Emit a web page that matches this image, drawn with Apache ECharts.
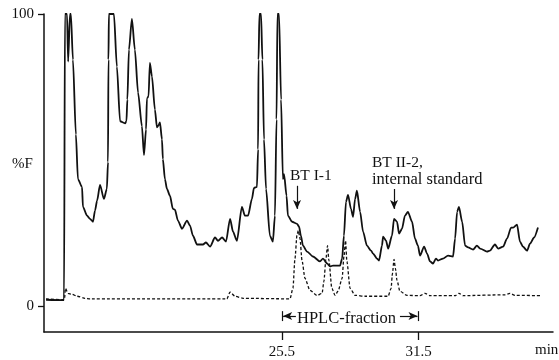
<!DOCTYPE html>
<html><head><meta charset="utf-8">
<script src="https://cdn.jsdelivr.net/npm/echarts@6/dist/echarts.min.js"></script>
<style>html,body{margin:0;padding:0;background:#fff}#c{width:559px;height:360px}</style>
</head><body><div id="c"></div>
<script>
// Solid trace (%F vs min)
var solidTime = [15.14,15.88,15.93,15.97,16.06,16.11,16.19,16.23,16.32,16.45,16.54,16.72,16.76,16.94,17.07,17.20,17.29,17.38,17.51,17.68,17.81,17.86,17.88,17.90,18.12,18.25,18.39,18.61,18.67,18.71,18.78,18.91,19.04,19.18,19.35,19.44,19.53,19.57,19.64,19.70,19.79,19.92,20.01,20.08,20.14,20.23,20.27,20.36,20.45,20.58,20.71,20.80,20.93,21.11,21.33,21.46,21.59,21.77,22.03,22.16,22.34,22.56,22.69,22.87,23.04,23.22,23.35,23.52,23.74,23.87,24.01,24.18,24.27,24.40,24.45,24.47,24.51,24.58,24.64,24.71,24.80,24.97,25.10,25.19,25.26,25.30,25.37,25.46,25.54,25.59,25.70,25.76,25.94,26.16,26.25,26.33,26.42,26.60,26.86,27.17,27.30,27.48,27.61,27.74,28.05,28.14,28.22,28.31,28.40,28.53,28.62,28.71,28.79,28.93,29.06,29.23,29.41,29.50,29.67,29.76,29.89,29.94,30.07,30.16,30.33,30.42,30.55,30.64,30.77,30.90,31.03,31.21,31.34,31.47,31.56,31.74,31.87,32.00,32.13,32.26,32.35,32.57,32.79,33.01,33.10,33.19,33.27,33.41,33.54,33.67,33.89,34.06,34.20,34.50,34.63,34.85,34.99,35.21,35.38,35.56,35.65,35.82,35.95,36.08,36.26,36.39,36.57,36.74];
var solidValue = [2.2,2.1,2.1,100,100,83.7,100,100,84.4,58.8,43.5,40.8,34.0,31.0,29.9,28.9,32.7,36.1,41.5,36.7,40.1,49.3,84.4,100,100,82.0,63.3,62.6,63.3,70.7,87.8,98.3,87.8,73.1,61.6,51.7,60.5,71.1,71.8,83.3,78.6,67.3,61.2,61.9,62.9,57.1,50.3,43.5,40.1,37.8,33.3,33.0,29.3,26.5,29.3,27.6,24.1,21.1,21.1,21.8,20.4,23.5,22.4,23.5,22.1,29.9,25.5,22.4,34.0,31.0,31.0,36.7,40.5,40.8,53.7,84.4,100,100,84.4,57.1,40.1,24.1,22.1,31.0,63.9,100,100,70.7,43.5,45.2,37.8,31.0,28.9,28.2,27.2,24.1,20.7,18.7,17.0,15.3,16.3,14.6,13.6,13.9,13.9,16.3,24.1,35.7,38.1,33.3,30.6,36.7,39.5,32.3,25.5,20.7,19.0,18.0,16.3,15.6,20.7,23.8,22.4,19.7,24.1,29.9,28.9,24.8,26.5,31.0,32.3,28.9,23.1,20.7,17.3,20.4,18.0,15.3,14.6,16.3,15.6,16.3,17.3,17.0,23.1,32.3,34.0,28.9,20.7,20.1,19.4,20.7,19.7,18.7,19.0,21.1,19.7,20.4,23.1,26.9,26.9,27.9,22.1,20.4,19.0,21.4,23.5,26.9];
// Dashed trace
var dashedTime = [15.14,15.88,15.95,15.99,16.10,16.28,16.50,16.85,17.07,23.08,23.22,23.44,23.79,25.85,25.98,26.07,26.16,26.22,26.29,26.38,26.51,26.73,27.04,27.26,27.34,27.43,27.50,27.56,27.69,27.83,27.96,28.14,28.22,28.29,28.35,28.49,28.71,29.15,30.16,30.29,30.35,30.42,30.48,30.55,30.68,30.99,31.56,31.78,32.00,33.10,33.27,33.45,35.29,35.51,35.73,36.83];
var dashedValue = [2.5,2.2,2.4,6.1,4.4,4.1,3.4,2.7,2.5,2.5,4.8,3.4,2.7,2.5,6.1,16.3,24.5,25.9,23.1,15.6,9.5,5.4,3.7,4.4,8.5,16.3,20.7,15.6,6.1,3.7,5.1,9.5,17.0,22.4,15.3,6.1,3.7,3.4,3.4,6.1,11.2,16.0,12.9,8.8,5.1,3.7,3.6,4.4,3.6,3.6,4.4,3.6,3.9,4.4,3.7,3.6];
var xTickLabels = [25.5, 31.5];
var yTickLabels = [0, 100];
var hplcStart = 25.5, hplcEnd = 31.5;
var arrowBT1 = 26.16, arrowBT2 = 30.42;

function zip(a, b) { return a.map(function (v, i) { return [v, b[i]]; }); }

var FONT = '"Liberation Serif", "DejaVu Serif", serif';
var chart = echarts.init(document.getElementById('c'), null, {renderer: 'canvas'});
var black = '#111';
chart.setOption({
  animation: false,
  backgroundColor: '#fff',
  grid: {left: 44, right: 6, top: 14, bottom: 26},
  xAxis: {
    type: 'value', min: 15.05, max: 37.4,
    splitLine: {show: false},
    axisLine: {onZero: false, lineStyle: {color: black, width: 1.5}},
    axisTick: {customValues: xTickLabels, length: 8, lineStyle: {color: black, width: 1.3}},
    axisLabel: {customValues: xTickLabels, margin: 13, color: black, fontFamily: FONT, fontSize: 15,
      formatter: function (v) { return v.toFixed(1); }}
  },
  yAxis: {
    type: 'value', min: -8.84, max: 100,
    splitLine: {show: false},
    axisLine: {show: true, lineStyle: {color: black, width: 1.5}},
    axisTick: {show: true, customValues: yTickLabels, length: 6, lineStyle: {color: black, width: 1.3}},
    axisLabel: {customValues: yTickLabels, margin: 10, color: black, fontFamily: FONT, fontSize: 15}
  },
  series: [
    {
      type: 'line', data: zip(solidTime, solidValue), showSymbol: false,
      smooth: 0.25, smoothMonotone: 'x',
      lineStyle: {color: black, width: 1.8},
      markLine: {
        silent: true, symbol: ['none', 'arrow'], symbolSize: [6, 9],
        label: {show: false},
        lineStyle: {color: black, width: 1.2, type: 'solid'},
        data: [
          [{coord: [arrowBT1, 41.2]}, {coord: [arrowBT1, 33.3]}],
          [{coord: [arrowBT2, 40.1]}, {coord: [arrowBT2, 33.3]}],
          [{coord: [26.11, -3.4]}, {coord: [hplcStart + 0.05, -3.4]}],
          [{coord: [30.68, -3.4]}, {coord: [hplcEnd - 0.05, -3.4]}],
          [{coord: [hplcStart, -1.7], symbol: 'none'}, {coord: [hplcStart, -5.1], symbol: 'none'}],
          [{coord: [hplcEnd, -1.7], symbol: 'none'}, {coord: [hplcEnd, -5.1], symbol: 'none'}]
        ]
      }
    },
    {
      type: 'line', data: zip(dashedTime, dashedValue), showSymbol: false,
      smooth: 0.25, smoothMonotone: 'x',
      lineStyle: {color: black, width: 1.3, type: [3, 2]}
    }
  ],
  graphic: [
    {type: 'text', left: 12, top: 157, style: {text: '%F', font: '15px ' + FONT, fill: black}},
    {type: 'text', left: 290, top: 168, style: {text: 'BT I-1', font: '15.5px ' + FONT, fill: black}},
    {type: 'text', left: 372, top: 155, style: {text: 'BT II-2,', font: '15.5px ' + FONT, fill: black}},
    {type: 'text', left: 372, top: 171, style: {text: 'internal standard', font: '16.5px ' + FONT, fill: black}},
    {type: 'text', left: 297, top: 310, style: {text: 'HPLC-fraction', font: '16.5px ' + FONT, fill: black}},
    {type: 'text', left: 535, top: 343, style: {text: 'min', font: '15px ' + FONT, fill: black}}
  ]
});
</script></body></html>
